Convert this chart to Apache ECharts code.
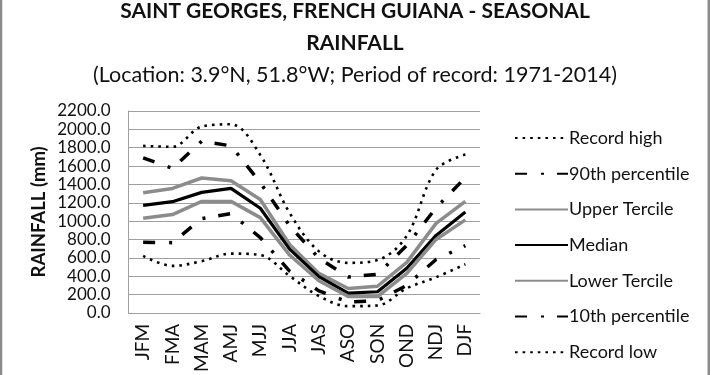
<!DOCTYPE html>
<html>
<head>
<meta charset="utf-8">
<script src="https://cdn.jsdelivr.net/npm/echarts@6/dist/echarts.min.js"></script>
<style>
  html, body { margin: 0; padding: 0; background: #fff; }
  #chart { width: 710px; height: 375px; }
</style>
</head>
<body>
<div id="chart"></div>
<script>
const categories = ['JFM', 'FMA', 'MAM', 'AMJ', 'MJJ', 'JJA', 'JAS', 'ASO', 'SON', 'OND', 'NDJ', 'DJF'];
const recordHigh   = [1820, 1810, 2030, 2055, 1720, 1090, 670, 545, 575, 840, 1558, 1725];
const pct90        = [1690, 1575, 1870, 1820, 1420, 950, 595, 390, 420, 735, 1145, 1474];
const upperTercile = [1310, 1356, 1470, 1440, 1235, 745, 430, 265, 290, 550, 975, 1214];
const median       = [1172, 1212, 1313, 1356, 1140, 695, 395, 215, 230, 486, 844, 1098];
const lowerTercile = [1031, 1071, 1215, 1215, 1038, 630, 350, 178, 178, 430, 800, 1013];
const pct10        = [770, 765, 1028, 1082, 820, 455, 240, 117, 134, 300, 582, 732];
const recordLow    = [620, 512, 563, 646, 630, 402, 184, 73, 80, 268, 388, 530];
const yTicks = { min: 0, max: 2200, interval: 200 };

const FONT = 'Lato';
const dotted = { color: '#000', width: 2.6, type: [2.6, 5], cap: 'butt' };
const dashDot = { color: '#000', width: 3.5, type: [12, 14, 3, 13], cap: 'butt' };
const grayLine = { color: '#8c8c8c', width: 3.5 };
const blackLine = { color: '#000', width: 3.2 };

function mk(name, data, lineStyle, smooth) {
  return {
    name: name, type: 'line', data: data, symbol: 'none', smooth: smooth ? 0.35 : false,
    lineStyle: lineStyle, itemStyle: { color: lineStyle.color }, emphasis: { disabled: true },
    animation: false
  };
}

const chart = echarts.init(document.getElementById('chart'), null, { renderer: 'canvas' });
chart.setOption({
  animation: false,
  backgroundColor: '#fff',
  title: [
    {
      text: 'SAINT GEORGES, FRENCH GUIANA - SEASONAL\nRAINFALL',
      left: 'center', top: -10,
      textStyle: { fontFamily: FONT, fontWeight: 'bold', fontSize: 21, lineHeight: 32, color: '#111' }
    },
    {
      text: '(Location: 3.9°N, 51.8°W; Period of record: 1971-2014)',
      left: 'center', top: 57,
      textStyle: { fontFamily: FONT, fontWeight: 'normal', fontSize: 21.5, lineHeight: 26, color: '#111' }
    }
  ],
  legend: {
    orient: 'vertical', left: 509, top: 124,
    itemWidth: 53, itemHeight: 14, itemGap: 17.7,
    itemStyle: { opacity: 0 },
    textStyle: { fontFamily: FONT, fontSize: 18, lineHeight: 18, color: '#111', padding: [0, 0, 0, -4] },
    selectedMode: false,
    data: ['Record high', '90th percentile', 'Upper Tercile', 'Median', 'Lower Tercile', '10th percentile', 'Record low']
  },
  grid: { left: 128.5, right: 230, top: 111, bottom: 45, containLabel: false },
  xAxis: {
    type: 'category', data: categories, boundaryGap: true,
    axisLine: { show: true, lineStyle: { color: '#a0a0a0', width: 1 } },
    axisTick: { show: false },
    axisLabel: { interval: 0, rotate: 90, margin: 11, fontFamily: FONT, fontSize: 19, color: '#111' }
  },
  yAxis: {
    type: 'value', min: yTicks.min, max: yTicks.max, interval: yTicks.interval,
    name: 'RAINFALL (mm)', nameLocation: 'middle', nameGap: 80, nameRotate: 90,
    nameTextStyle: { fontFamily: FONT, fontWeight: 'bold', fontSize: 18.5, color: '#111' },
    axisLine: { show: true, lineStyle: { color: '#a0a0a0', width: 1 } },
    axisTick: { show: false },
    splitLine: { show: true, lineStyle: { color: '#a0a0a0', width: 1 } },
    axisLabel: { margin: 18, fontFamily: FONT, fontSize: 17, color: '#111', formatter: v => v.toFixed(1) }
  },
  series: [
    mk('Record high', recordHigh, dotted, true),
    mk('90th percentile', pct90, dashDot, false),
    mk('Upper Tercile', upperTercile, grayLine, false),
    mk('Median', median, blackLine, false),
    mk('Lower Tercile', lowerTercile, grayLine, false),
    mk('10th percentile', pct10, dashDot, false),
    mk('Record low', recordLow, dotted, true)
  ],
  graphic: [
    { type: 'line', shape: { x1: 1, y1: 0, x2: 1, y2: 375 }, style: { stroke: '#8a8a8a', lineWidth: 2.5 } },
    { type: 'line', shape: { x1: 708.8, y1: 0, x2: 708.8, y2: 375 }, style: { stroke: '#8a8a8a', lineWidth: 2.5 } }
  ]
});
</script>
</body>
</html>
